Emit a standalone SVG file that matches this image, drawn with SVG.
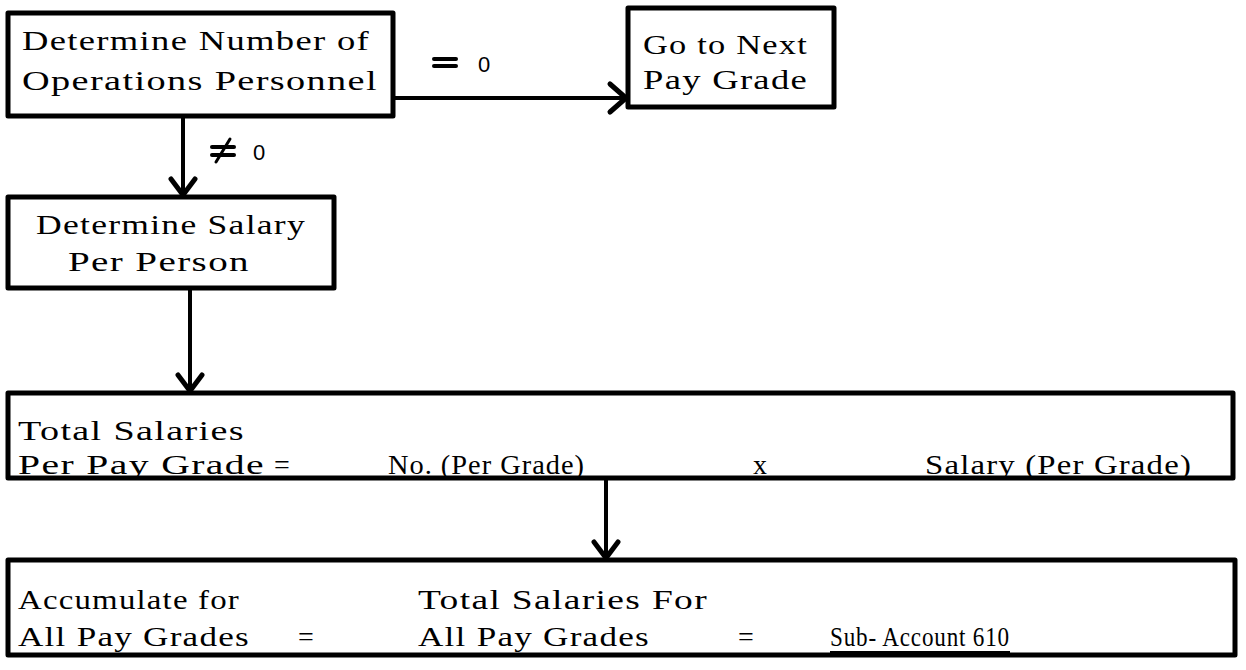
<svg xmlns="http://www.w3.org/2000/svg" width="1246" height="670" viewBox="0 0 1246 670">
<defs>
<style>
.box{fill:#fff;stroke:#000;stroke-width:5;stroke-linejoin:round}
.t{font-family:"Liberation Serif","DejaVu Serif",serif;font-size:28px;fill:#000;letter-spacing:1px}
.s{font-family:"Liberation Sans","DejaVu Sans",sans-serif;font-size:22px;fill:#000}
.c{fill:none;stroke:#000;stroke-width:4}
.ah{fill:none;stroke:#000;stroke-width:5;stroke-linecap:round;stroke-linejoin:round}
</style>
</defs>
<rect width="1246" height="670" fill="#fff"/>
<g id="connectors">
<line class="c" x1="393" y1="98" x2="626" y2="98"/>
<path class="ah" d="M610,84 L626,98 L610,112"/>
<line class="c" x1="183" y1="116" x2="183" y2="195"/>
<path class="ah" d="M171,179 L183,195 L195,179"/>
<line class="c" x1="190" y1="288" x2="190" y2="391"/>
<path class="ah" d="M178,375 L190,391 L202,375"/>
<line class="c" x1="606" y1="478" x2="606" y2="558"/>
<path class="ah" d="M594,542 L606,558 L618,542"/>
<g stroke="#000" stroke-width="4" stroke-linecap="round">
<line x1="434" y1="59" x2="456" y2="59"/>
<line x1="434" y1="66" x2="456" y2="66"/>
<line x1="212" y1="147" x2="234" y2="147"/>
<line x1="212" y1="155" x2="234" y2="155"/>
<line x1="230" y1="139" x2="216" y2="162" stroke-width="3"/>
</g>
<text class="s" x="478" y="72">0</text>
<text class="s" x="253" y="160">0</text>
</g>
<g id="n1">
<rect class="box" x="8" y="13" width="385" height="103"/>
<text class="t" x="22" y="50" textLength="348" lengthAdjust="spacingAndGlyphs">Determine Number of</text>
<text class="t" x="22" y="90" textLength="356" lengthAdjust="spacingAndGlyphs">Operations Personnel</text>
</g>
<g id="n2">
<rect class="box" x="628" y="8" width="206" height="99"/>
<text class="t" x="643" y="54" textLength="165" lengthAdjust="spacingAndGlyphs">Go to Next</text>
<text class="t" x="643" y="89" textLength="165" lengthAdjust="spacingAndGlyphs">Pay Grade</text>
</g>
<g id="n3">
<rect class="box" x="8" y="197" width="326" height="91"/>
<text class="t" x="36" y="234" textLength="270" lengthAdjust="spacingAndGlyphs">Determine Salary</text>
<text class="t" x="68" y="271" textLength="182" lengthAdjust="spacingAndGlyphs">Per Person</text>
</g>
<g id="n4">
<rect class="box" x="8" y="393" width="1225" height="85"/>
<text class="t" x="18" y="440" textLength="227" lengthAdjust="spacingAndGlyphs">Total Salaries</text>
<text class="t" x="18" y="474" textLength="247" lengthAdjust="spacingAndGlyphs">Per Pay Grade</text>
<text class="t" x="274" y="474">=</text>
<text class="t" x="388" y="474" textLength="197" lengthAdjust="spacingAndGlyphs">No. (Per Grade)</text>
<text class="t" x="753" y="474">x</text>
<text class="t" x="925" y="474" textLength="267" lengthAdjust="spacingAndGlyphs">Salary (Per Grade)</text>
</g>
<g id="n5">
<rect class="box" x="8" y="560" width="1227" height="95"/>
<text class="t" x="18" y="609" textLength="222" lengthAdjust="spacingAndGlyphs">Accumulate for</text>
<text class="t" x="18" y="646" textLength="232" lengthAdjust="spacingAndGlyphs">All Pay Grades</text>
<text class="t" x="298" y="646">=</text>
<text class="t" x="418" y="609" textLength="290" lengthAdjust="spacingAndGlyphs">Total Salaries For</text>
<text class="t" x="418" y="646" textLength="232" lengthAdjust="spacingAndGlyphs">All Pay Grades</text>
<text class="t" x="738" y="646">=</text>
<text class="t" x="830" y="646" textLength="180" lengthAdjust="spacingAndGlyphs">Sub- Account 610</text>
<line x1="830" y1="652" x2="1010" y2="652" stroke="#000" stroke-width="2"/>
</g>
</svg>
